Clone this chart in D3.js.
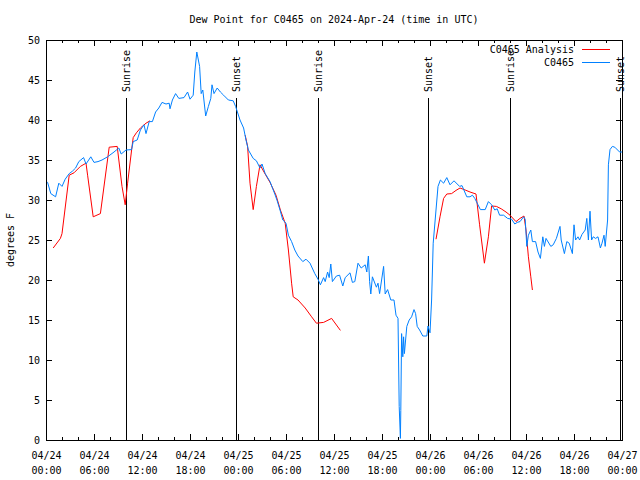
<!DOCTYPE html>
<html>
<head>
<meta charset="utf-8">
<script src="https://cdn.jsdelivr.net/npm/d3@7"></script>
<style>
  html, body { margin: 0; padding: 0; background: #fff; }
  svg { display: block; }
  text { font-family: "DejaVu Sans Mono", "Liberation Mono", monospace; font-size: 10px; fill: #000; }
</style>
</head>
<body>
<svg id="chart" width="640" height="480"></svg>
<script>
// ---- Data (hours since 2024-04-24 00:00 UTC) ----
const titleText = "Dew Point for C0465 on 2024-Apr-24 (time in UTC)";
const yLabel = "degrees F";
const seriesNames = ["C0465 Analysis", "C0465"];

const obsHours = [0.0,0.2,0.6,1.2,1.6,2.0,2.4,2.9,3.3,3.7,4.1,4.7,5.0,5.6,6.0,6.5,7.0,7.7,8.5,9.1,9.4,10.0,10.7,10.9,11.4,11.8,12.25,12.5,12.9,13.3,13.7,14.1,14.5,15.0,15.4,15.5,15.8,16.2,16.6,17.25,17.7,18.0,18.4,18.6,18.85,19.2,19.4,19.6,19.96,20.3,20.6,20.75,21.0,21.4,21.8,22.2,22.8,23.4,23.7,24.25,24.7,25.0,25.3,25.9,26.3,26.75,27.0,27.4,28.0,28.6,28.9,29.25,29.6,30.0,30.3,30.7,31.1,31.5,32.1,32.5,33.0,33.6,34.0,34.3,34.7,34.9,35.2,35.4,35.6,35.8,36.3,36.7,37.1,37.4,38.0,38.3,38.6,39.0,39.4,39.9,40.1,40.3,40.45,40.6,40.8,41.3,41.5,41.7,42.2,42.4,42.7,43.1,43.5,43.75,44.0,44.15,44.3,44.35,44.45,44.6,44.7,44.8,45.1,45.4,45.7,46.0,46.2,46.4,46.7,47.1,47.6,47.75,48.0,48.2,48.4,48.75,49.0,49.3,49.7,50.1,50.5,51.0,51.7,52.0,52.6,53.0,53.3,53.6,54.0,54.3,54.9,55.3,55.7,56.1,56.4,56.7,57.2,57.7,58.2,58.6,58.9,59.25,59.7,59.9,60.1,60.3,60.6,60.8,61.2,61.5,61.8,62.1,62.3,62.5,63.1,63.4,63.8,64.25,64.4,64.8,65.1,65.4,65.8,66.0,66.2,66.5,66.7,67.0,67.4,67.6,67.8,68.0,68.2,68.4,68.7,69.0,69.3,69.5,69.75,69.9,70.2,70.3,70.5,70.8,71.1,71.7,72.0];
const obsValues = [32.3,32.2,30.8,30.4,32.1,31.7,32.6,33.3,33.6,34.0,34.8,35.3,34.5,35.4,34.7,34.8,35.0,35.4,36.0,36.5,35.75,36.25,36.3,37.3,37.5,38.75,39.4,38.3,39.8,39.8,41.0,41.5,42.2,42.0,42.1,41.4,42.5,43.3,42.7,42.8,43.5,42.6,43.1,46.0,48.5,46.7,43.3,43.75,40.5,41.7,42.7,44.4,43.3,44.0,43.5,43.1,42.5,42.4,41.7,40.0,39.0,37.5,36.25,35.2,34.9,34.0,34.5,33.3,32.3,30.75,29.9,28.75,27.5,27.1,25.6,24.8,23.75,23.0,22.3,22.6,22.1,20.8,20.1,19.4,20.3,19.8,21.0,20.3,22.0,19.8,20.5,20.6,19.25,20.3,20.9,19.7,19.8,22.1,21.5,21.9,21.0,23.0,19.8,18.25,20.4,19.1,19.6,18.3,21.7,18.25,18.8,17.5,17.5,15.6,15.2,4.2,0.2,3.7,13.3,10.4,12.9,10.8,14.2,15.0,15.4,16.3,15.8,14.2,13.75,13.0,13.0,14.25,13.4,17.5,24.6,28.75,31.7,32.5,32.1,32.8,31.9,32.4,31.7,31.8,30.4,30.4,30.6,30.2,29.4,28.8,28.8,29.8,29.4,28.75,28.9,28.1,28.1,27.7,27.6,27.0,27.2,27.3,27.9,27.6,24.2,25.6,26.25,24.8,24.8,23.5,22.7,25.4,24.2,25.2,24.2,24.4,25.2,26.7,25.0,23.3,24.8,24.6,23.3,26.9,25.0,25.4,25.0,25.7,26.25,27.7,25.0,28.6,25.0,25.4,25.2,25.4,24.0,24.6,25.6,24.2,27.5,34.4,36.3,36.7,36.6,36.0,36.0];

// null marks a gap in the analysis series
const anaHours = [0.9,1.8,2.0,2.9,3.5,4.3,5.0,5.2,5.9,6.8,7.9,8.9,9.5,9.9,10.2,10.7,10.9,11.3,11.8,12.5,13.0,18.0,24.9,25.2,25.5,25.9,26.3,26.75,27.25,28.0,28.75,29.3,29.9,30.3,30.7,30.9,31.5,32.4,33.2,33.8,34.7,35.7,36.8,42.0,48.75,49.25,49.7,50.1,50.7,51.25,51.75,52.4,53.0,53.75,54.2,54.8,55.3,55.7,56.3,56.9,57.5,58.0,58.75,59.25,59.75,60.0,60.3,60.6,60.8];
const anaValues = [24.0,25.2,25.8,33.1,33.4,34.2,34.6,33.1,27.9,28.3,36.6,36.7,31.7,29.4,32.1,36.25,37.8,38.4,39.0,39.6,39.9,null,38.1,36.7,32.1,28.8,31.7,34.4,33.5,32.2,30.6,28.75,27.1,23.75,19.6,17.9,17.5,16.5,15.4,14.6,14.7,15.2,13.7,null,25.1,27.9,30.2,30.75,30.8,31.2,31.5,31.25,31.0,30.75,26.9,22.1,25.4,29.25,29.2,28.9,28.5,28.1,27.3,27.7,28.0,26.25,22.9,20.4,18.75];

const sunHours = [10, 23.75, 34, 47.75, 58, 71.75];
const sunLabels = ["Sunrise", "Sunset", "Sunrise", "Sunset", "Sunrise", "Sunset"];

const yTicks = [0,5,10,15,20,25,30,35,40,45,50];

// ---- Layout ----
const W = 640, H = 480;
const m = { left: 46, right: 18, top: 40, bottom: 40 };
const t0 = Date.UTC(2024, 3, 24, 0, 0);
const toDate = h => new Date(t0 + h * 3600000);

const x = d3.scaleUtc().domain([toDate(0), toDate(72)]).range([m.left, W - m.right]);
const y = d3.scaleLinear().domain([0, 50]).range([H - m.bottom, m.top]);

const svg = d3.select("#chart");
svg.append("rect").attr("width", W).attr("height", H).attr("fill", "#fff");

// Title
svg.append("text").attr("x", (m.left + W - m.right) / 2).attr("y", 23)
  .attr("text-anchor", "middle").text(titleText);

// Y label
svg.append("text").attr("transform", `translate(10,${(m.top + H - m.bottom) / 2}) rotate(-90)`)
  .attr("text-anchor", "middle").attr("dy", "0.35em").text(yLabel);

// Axes
const majorTicks = d3.utcHour.range(toDate(0), toDate(72.01), 6);
const minorTicks = d3.utcHour.range(toDate(0), toDate(72.01), 2).filter(d => d.getUTCHours() % 6 !== 0);

function styleAxis(g) {
  g.selectAll(".domain").remove();
  g.selectAll("line").attr("stroke", "#000").attr("shape-rendering", "crispEdges");
}

const fmtD = d3.utcFormat("%m/%d"), fmtT = d3.utcFormat("%H:%M");
const xb = svg.append("g").attr("transform", `translate(0,${H - m.bottom})`)
  .call(d3.axisBottom(x).tickValues(majorTicks).tickSizeInner(-6).tickSizeOuter(0).tickPadding(10).tickFormat(""))
  .call(styleAxis);
xb.selectAll(".tick text").each(function(d) {
  const t = d3.select(this).attr("dy", null).attr("y", 19);
  t.append("tspan").attr("x", 0).text(fmtD(d));
  t.append("tspan").attr("x", 0).attr("dy", 15).text(fmtT(d));
});
xb.attr("font-family", null).attr("font-size", null);
svg.append("g").attr("transform", `translate(0,${H - m.bottom})`)
  .call(d3.axisBottom(x).tickValues(minorTicks).tickSizeInner(-3).tickSizeOuter(0).tickFormat(""))
  .call(styleAxis);
svg.append("g").attr("transform", `translate(0,${m.top})`)
  .call(d3.axisTop(x).tickValues(majorTicks).tickSizeInner(-6).tickSizeOuter(0).tickFormat(""))
  .call(styleAxis);
svg.append("g").attr("transform", `translate(0,${m.top})`)
  .call(d3.axisTop(x).tickValues(minorTicks).tickSizeInner(-3).tickSizeOuter(0).tickFormat(""))
  .call(styleAxis);

const yl = svg.append("g").attr("transform", `translate(${m.left},0)`)
  .call(d3.axisLeft(y).tickValues(yTicks).tickSizeInner(-6).tickSizeOuter(0).tickPadding(6))
  .call(styleAxis);
yl.attr("font-family", null).attr("font-size", null);
svg.append("g").attr("transform", `translate(${W - m.right},0)`)
  .call(d3.axisRight(y).tickValues(yTicks).tickSizeInner(-6).tickSizeOuter(0).tickFormat(""))
  .call(styleAxis);

// Sunrise / sunset lines
const sun = svg.append("g");
sunHours.forEach((h, i) => {
  const sx = Math.floor(x(toDate(h))) + 0.5;
  sun.append("line").attr("x1", sx).attr("x2", sx).attr("y1", y(0)).attr("y2", 98)
    .attr("stroke", "#000").attr("stroke-width", 1);
  sun.append("text").attr("transform", `translate(${sx},92) rotate(-90)`)
    .attr("dy", "0.35em").attr("text-anchor", "start").text(sunLabels[i]);
});

// Series lines
const anaData = anaHours.map((h, i) => ({ t: toDate(h), v: anaValues[i] }));
const obsData = obsHours.map((h, i) => ({ t: toDate(h), v: obsValues[i] }));
const line = d3.line().defined(d => d.v !== null).x(d => x(d.t)).y(d => y(d.v));

svg.append("path").datum(anaData).attr("d", line)
  .attr("fill", "none").attr("stroke", "#ff0000").attr("stroke-width", 1);
svg.append("path").datum(obsData).attr("d", line)
  .attr("fill", "none").attr("stroke", "#0080ff").attr("stroke-width", 1);

// Border
svg.append("rect").attr("x", m.left + 0.5).attr("y", m.top + 0.5)
  .attr("width", W - m.left - m.right).attr("height", H - m.top - m.bottom)
  .attr("fill", "none").attr("stroke", "#000").attr("shape-rendering", "crispEdges");

// Legend
const legColors = ["#ff0000", "#0080ff"];
seriesNames.forEach((name, i) => {
  const ly = 49.5 + i * 13;
  svg.append("text").attr("x", 574).attr("y", ly).attr("dy", "0.35em")
    .attr("text-anchor", "end").text(name);
  svg.append("line").attr("x1", 582).attr("x2", 610).attr("y1", ly).attr("y2", ly)
    .attr("stroke", legColors[i]).attr("stroke-width", 1);
});
</script>
</body>
</html>
